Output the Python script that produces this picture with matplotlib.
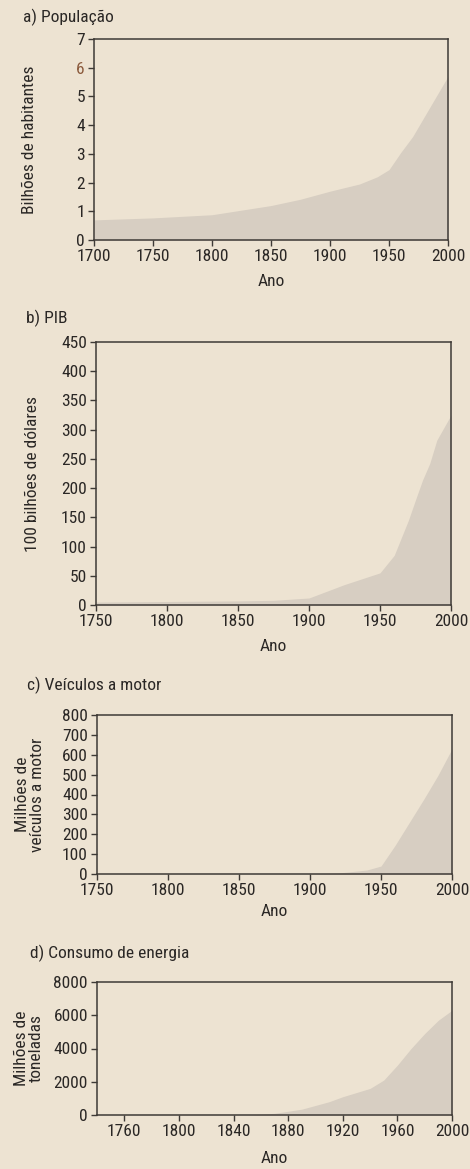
import matplotlib
matplotlib.use('Agg')
import matplotlib.pyplot as plt

# dados
pop_anos = [1700, 1750, 1800, 1850, 1875, 1900, 1925, 1940, 1950, 1955, 1960, 1970, 1980, 1990, 2000]
pop_vals = [0.7, 0.77, 0.88, 1.2, 1.42, 1.7, 1.95, 2.2, 2.45, 2.75, 3.05, 3.6, 4.3, 5.0, 5.7]

pib_anos = [1750, 1800, 1850, 1875, 1900, 1925, 1950, 1960, 1970, 1975, 1980, 1985, 1990, 2000]
pib_vals = [5, 6, 7, 8, 12, 35, 55, 85, 145, 180, 214, 242, 282, 325]

veic_anos = [1750, 1900, 1920, 1940, 1950, 1960, 1970, 1980, 1990, 2000]
veic_vals = [0, 0, 5, 20, 40, 145, 260, 375, 495, 630]

ener_anos = [1840, 1850, 1870, 1890, 1910, 1920, 1940, 1950, 1960, 1970, 1980, 1990, 2000]
ener_vals = [0, 0, 100, 350, 800, 1100, 1600, 2100, 3000, 4000, 4900, 5700, 6300]

fundo = '#ede3d2'
cinza = '#d7cec2'
traco = '#3e3a36'

plt.rcParams['font.family'] = ['Roboto Condensed', 'DejaVu Sans']
plt.rcParams['font.size'] = 12.5
plt.rcParams['text.color'] = '#2a2725'
plt.rcParams['axes.labelcolor'] = '#2a2725'
plt.rcParams['xtick.color'] = traco
plt.rcParams['ytick.color'] = traco
plt.rcParams['xtick.labelcolor'] = '#2a2725'
plt.rcParams['ytick.labelcolor'] = '#2a2725'

fig = plt.figure(figsize=(4.7, 11.69), dpi=100, facecolor=fundo)
W, H = 470, 1169


def painel(l, t, r, b):
    ax = fig.add_axes([l / W, 1 - b / H, (r - l) / W, (b - t) / H])
    ax.set_facecolor(fundo)
    for s in ax.spines.values():
        s.set_color(traco)
        s.set_linewidth(1.1)
    ax.tick_params(direction='out', length=4.5, width=1, pad=2, labelsize=12.5)
    return ax


# a) Populacao
ax = painel(94, 39, 448, 240)
ax.fill_between(pop_anos, pop_vals, color=cinza, lw=0)
ax.set_xlim(1700, 2000)
ax.set_ylim(0, 7)
ax.set_xticks(range(1700, 2001, 50))
ax.set_yticks(range(0, 8))
ax.get_yticklabels()[6].set_color('#8b5a3c')
ax.set_ylabel('Bilhões de habitantes')
ax.yaxis.set_label_coords(-0.161, 0.5)
ax.set_xlabel('Ano')
ax.xaxis.set_label_coords(0.5, -0.17)
fig.text(23 / W, 1 - 17 / H, 'a) População', va='center', ha='left')

# b) PIB
ax = painel(96, 342, 451, 605)
ax.fill_between(pib_anos, pib_vals, color=cinza, lw=0)
ax.set_xlim(1750, 2000)
ax.set_ylim(0, 450)
ax.set_xticks(range(1750, 2001, 50))
ax.set_yticks(range(0, 451, 50))
ax.set_ylabel('100 bilhões de dólares')
ax.yaxis.set_label_coords(-0.158, 0.5)
ax.set_xlabel('Ano')
ax.xaxis.set_label_coords(0.5, -0.13)
fig.text(26 / W, 1 - 318 / H, 'b) PIB', va='center', ha='left')

# c) Veiculos a motor
ax = painel(97, 715, 452, 874)
ax.fill_between(veic_anos, veic_vals, color=cinza, lw=0)
ax.set_xlim(1750, 2000)
ax.set_ylim(0, 800)
ax.set_xticks(range(1750, 2001, 50))
ax.set_yticks(range(0, 801, 100))
ax.set_ylabel('Milhões de\nveículos a motor', linespacing=1.0)
ax.yaxis.set_label_coords(-0.146, 0.5)
ax.set_xlabel('Ano')
ax.xaxis.set_label_coords(0.5, -0.19)
fig.text(27 / W, 1 - 685 / H, 'c) Veículos a motor', va='center', ha='left')

# d) Consumo de energia
ax = painel(97, 982, 452, 1115)
ax.fill_between(ener_anos, ener_vals, color=cinza, lw=0)
ax.set_xlim(1740, 2000)
ax.set_ylim(0, 8000)
ax.set_xticks(range(1760, 2001, 40))
ax.set_yticks(range(0, 8001, 2000))
ax.set_ylabel('Milhões de\ntoneladas', linespacing=1.0)
ax.yaxis.set_label_coords(-0.15, 0.5)
ax.set_xlabel('Ano')
ax.xaxis.set_label_coords(0.5, -0.27)
fig.text(30 / W, 1 - 953 / H, 'd) Consumo de energia', va='center', ha='left')

fig.savefig('out.png', dpi=100, facecolor=fundo)
